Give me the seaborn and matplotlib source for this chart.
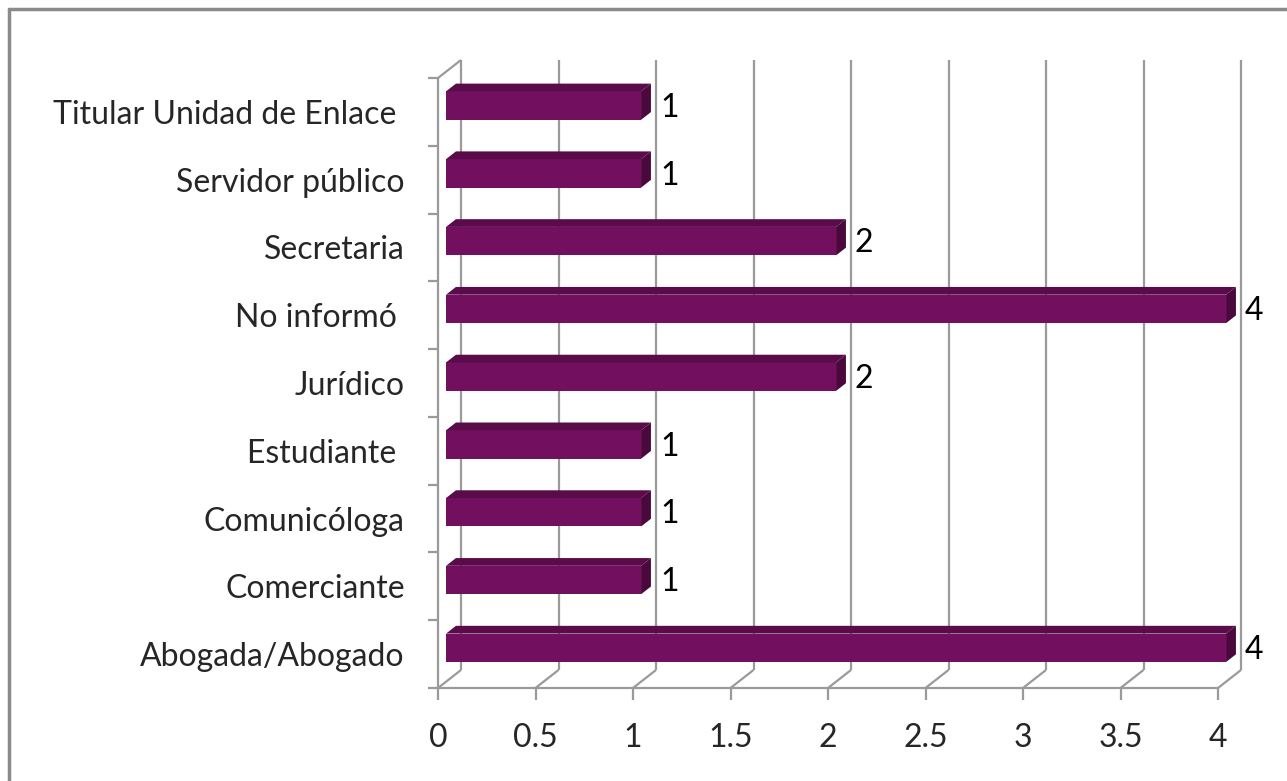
import numpy as np
import pandas as pd
import matplotlib
matplotlib.use("Agg")
import matplotlib.pyplot as plt
from matplotlib.patches import Polygon
import seaborn as sns

# data, top to bottom as shown
categories = ["Titular Unidad de Enlace ", "Servidor público", "Secretaria", "No informó ",
              "Jurídico", "Estudiante ", "Comunicóloga", "Comerciante", "Abogada/Abogado"]
counts = [1, 1, 2, 4, 2, 1, 1, 1, 4]
xticks = [0, 0.5, 1, 1.5, 2, 2.5, 3, 3.5, 4]
xtick_labels = ["0", "0.5", "1", "1.5", "2", "2.5", "3", "3.5", "4"]

front = "#72105f"
top_c = "#5a0b4a"
side_c = "#4a083c"
grid_c = "#9a9a9a"

sns.set_style("white")
plt.rcParams["font.family"] = ["Lato", "DejaVu Sans"]

W, H = 1287, 781
fig = plt.figure(figsize=(W / 100, H / 100), dpi=100)
ax = fig.add_axes([438 / W, 1 - 688 / H, 780 / W, 610 / H])

df = pd.DataFrame({"cat": categories, "n": counts})
sns.barplot(data=df, y="cat", x="n", orient="h", color=front, width=0.42,
            saturation=1, ax=ax, zorder=3)

ax.set_xlim(0, 4)
ax.set_ylim(8.5, -0.5)
for s in ax.spines.values():
    s.set_visible(False)
ax.set_xlabel("")
ax.set_ylabel("")

PX = 4 / 780.0   # data x per pixel
PY = 9 / 610.0   # data y per pixel
DX, DY = 23, 18  # wall depth in px
f0, f1 = 0.35, 0.78  # bar depth fractions

lkw = dict(color=grid_c, lw=1.6, clip_on=False, zorder=1, solid_capstyle="butt")
# back wall grid
for v in xticks:
    bx = v + DX * PX
    ax.plot([bx, bx], [8.5 - DY * PY, -0.5 - DY * PY], **lkw)
    ax.plot([v, bx], [8.5, 8.5 - DY * PY], **lkw)
    ax.plot([v, v], [8.5, 8.5 + 12 * PY], **lkw)
ax.plot([0, 4], [8.5, 8.5], **lkw)
ax.plot([0, 0], [-0.5, 8.5], **lkw)
ax.plot([0, DX * PX], [-0.5, -0.5 - DY * PY], **lkw)
for k in range(10):
    ax.plot([-10 * PX, 0], [k - 0.5, k - 0.5], **lkw)

# move bars to mid depth and add top/side faces
ox, oy = f0 * DX * PX, -f0 * DY * PY
bx_, by_ = (f1 - f0) * DX * PX, -(f1 - f0) * DY * PY
for p in ax.patches:
    x0, y0 = p.get_x() + ox, p.get_y() + oy
    w, h = p.get_width(), p.get_height()
    p.set_x(x0)
    p.set_y(y0)
    p.set_linewidth(0)
    ax.add_patch(Polygon([[x0, y0], [x0 + w, y0], [x0 + w + bx_, y0 + by_], [x0 + bx_, y0 + by_]],
                         closed=True, fc=top_c, lw=0, zorder=3, clip_on=False))
    ax.add_patch(Polygon([[x0 + w, y0], [x0 + w + bx_, y0 + by_], [x0 + w + bx_, y0 + h + by_], [x0 + w, y0 + h]],
                         closed=True, fc=side_c, lw=0, zorder=3, clip_on=False))
    p.set_clip_on(False)

# value labels
for i, v in enumerate(counts):
    ax.text(v + (f1 * DX + 9) * PX, i - 0.06, str(v), ha="left", va="center",
            fontsize=23, color="black", clip_on=False)

ax.set_xticks(xticks)
ax.set_xticklabels(xtick_labels)
ax.tick_params(axis="x", length=0, pad=25, labelsize=23)
ax.tick_params(axis="y", length=0, pad=24, labelsize=23)

# outer frame
fig.add_artist(plt.Line2D([9 / W, 9 / W], [0, 1 - 9 / H], color="#8a8a8a", lw=2.5))
fig.add_artist(plt.Line2D([9 / W, 1], [1 - 9 / H, 1 - 9 / H], color="#8a8a8a", lw=2.5))

fig.savefig("out.png", dpi=100, facecolor="white")
